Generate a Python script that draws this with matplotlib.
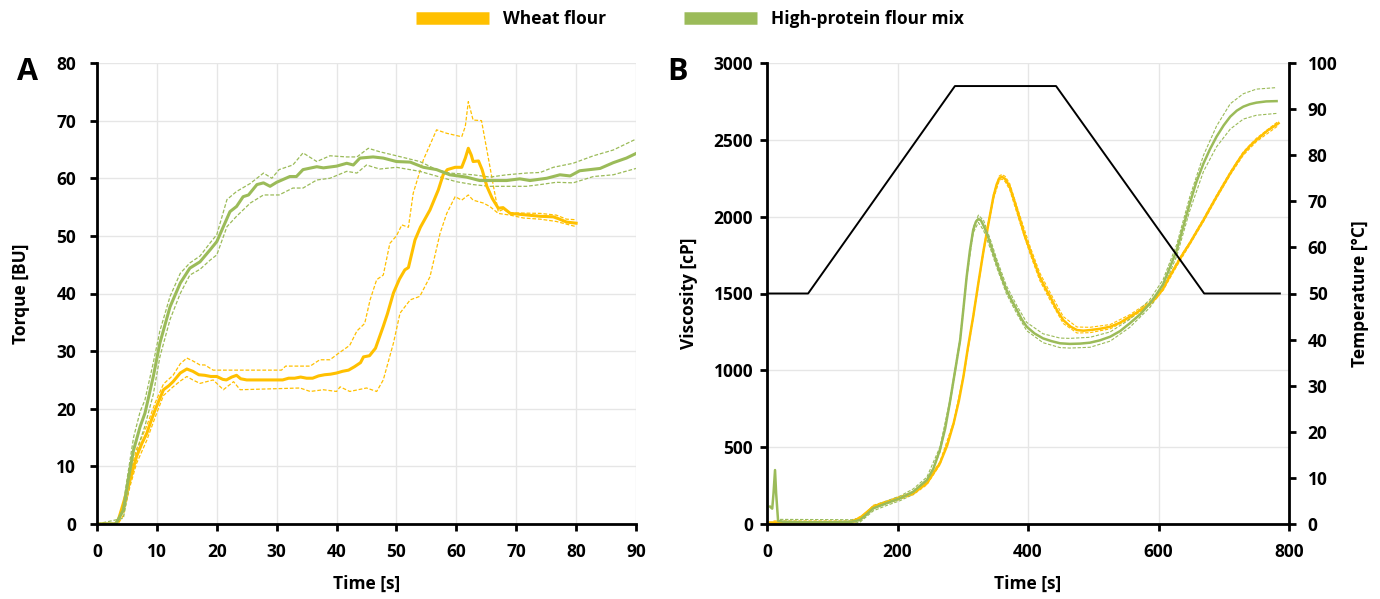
import matplotlib
matplotlib.use("Agg")
import matplotlib.pyplot as plt
from matplotlib.lines import Line2D

plt.rcParams['font.family'] = ['Open Sans', 'DejaVu Sans']
plt.rcParams['font.weight'] = 'bold'

YELLOW = '#FFC000'
GREEN = '#9BBB59'
GRID = '#E6E6E6'

# ---------------- Panel A: torque ----------------
wheat_t = [0, 3, 3.5, 4.4, 5.5, 6.6, 7.5, 8.3, 9, 9.7, 10.5, 11.1, 12, 12.7, 13.9, 15, 16, 17, 18, 19, 20, 21,
           21.6, 22.5, 23.3, 24, 25, 30, 31, 32, 33, 34, 35, 36, 37, 38, 39, 40, 41, 42, 43, 44, 44.5, 45.5, 46.5,
           47.8, 48.5, 49.5, 50.5, 51.4, 52, 53.1, 54, 55.6, 57, 57.8, 58.5, 59.8, 60.9, 61.5, 62, 62.5, 62.8, 63.7,
           64.3, 65.1, 66, 67, 67.8, 69, 70, 72, 74, 76.2, 77, 78.4, 80]
wheat_mean = [0, 0, 0.5, 3.6, 7.6, 11.7, 14, 15.7, 17.8, 19.8, 21.8, 23.3, 24.0, 24.7, 26.2, 26.9, 26.5, 25.9, 25.8,
              25.6, 25.6, 25.1, 25.0, 25.5, 25.8, 25.2, 25.0, 25.0, 25.0, 25.3, 25.3, 25.5, 25.3, 25.3, 25.7, 25.9,
              26.0, 26.2, 26.5, 26.7, 27.3, 28.0, 29.0, 29.2, 30.5, 34.3, 36.5, 40.1, 42.5, 44.1, 44.5, 49.3, 51.5,
              54.5, 58, 60.6, 61.5, 61.9, 61.9, 63.5, 65.2, 64, 62.9, 63.0, 61.5, 58.6, 56.5, 54.8, 54.9, 53.9, 53.8,
              53.6, 53.4, 53.3, 53.0, 52.4, 52.2]

wheat_up_t = [0, 3, 3.5, 4.4, 5, 5.5, 6.6, 8.3, 9.7, 11.1, 12.7, 13.9, 15, 16, 17.2, 18, 19.4, 30.8, 31.5, 35.6, 37.2,
              38.9, 40.3, 42.2, 43.4, 44.7, 45.6, 46.7, 47.8, 48.9, 50, 50.9, 52, 52.8, 54.5, 56.7, 58.4, 60.9, 61.5,
              62, 62.8, 64.2, 65.1, 66.2, 67, 67.8, 69, 74, 76.7, 78.4, 80]
wheat_up = [0, 0, 0.7, 2.5, 4.5, 8.5, 13, 17, 21, 24.3, 25.8, 27.8, 28.8, 28.3, 27.6, 27.6, 26.7, 26.7, 27.4, 27.4, 28.5,
            28.5, 29.6, 31.0, 33.5, 34.8, 38.9, 42.4, 43.2, 48.7, 50, 51.9, 51.5, 57.4, 63.2, 68.4, 67.8, 67.2, 69,
            73.3, 70.1, 70.0, 64.9, 58.6, 54.2, 54.6, 54.0, 53.9, 53.6, 52.9, 52.8]

wheat_lo_t = [0, 3.5, 4.4, 5.5, 6.6, 8.3, 9.7, 11.1, 12.7, 13.9, 15, 16, 17.2, 19.4, 21.1, 22.8, 23.9, 33.9, 35.6, 37.8,
              40, 40.6, 42.2, 45, 46.7, 47.8, 49.5, 50.6, 52.3, 53.9, 55.6, 57.3, 58.4, 59.8, 60.9, 62, 62.8, 64.5,
              65.6, 67, 69, 71.2, 74, 76.7, 80]
wheat_lo = [0, 0, 1.5, 6.5, 10.5, 14.5, 18.5, 22.3, 23.8, 24.8, 25.6, 25.0, 24.4, 25.0, 23.3, 24.7, 23.3, 23.6, 23.0,
            23.3, 23.0, 23.8, 23.0, 23.6, 23.0, 25.0, 31.4, 36.6, 38.9, 39.5, 42.9, 50.5, 53.9, 56.8, 56.2, 57.1, 56.2,
            55.7, 55.1, 53.9, 53.6, 53.1, 52.9, 52.5, 51.6]

hp_t = [0, 3, 3.3, 4.4, 5.2, 6.1, 7.2, 8, 9.4, 10.5, 12.2, 13.9, 15.5, 17.2, 18.9, 20, 21.1, 22.2, 23.3, 24.4, 25.3,
        26.7, 27.8, 28.9, 30, 32.2, 33.3, 34.4, 36.7, 37.8, 40, 41.7, 42.8, 43.9, 46.1, 47.8, 50, 52.3, 54.5, 56.7,
        58.9, 61.7, 63.9, 68.4, 70.6, 72.3, 75.1, 77.3, 79, 80.6, 84, 86.2, 88.4, 90]
hp_mean = [0, 0, 0.3, 2.4, 7.6, 12.8, 16.9, 19.2, 25.6, 31.4, 37.7, 41.8, 44.4, 45.5, 47.6, 49.0, 51.6, 54.2, 55.1,
           56.8, 57.1, 58.9, 59.2, 58.6, 59.3, 60.3, 60.3, 61.5, 62.0, 61.8, 62.1, 62.6, 62.3, 63.5, 63.7, 63.5, 62.9,
           62.8, 61.9, 61.5, 60.6, 60.2, 59.6, 59.6, 59.9, 59.6, 60.0, 60.6, 60.4, 61.3, 61.7, 62.7, 63.5, 64.3]

hp_up_t = [0, 3, 3.5, 4.4, 5.2, 6.1, 7.2, 8, 9.4, 10.5, 12.2, 13.9, 15.5, 17.2, 18.9, 20, 21.7, 23.3, 25.6, 27.8, 29.2,
           30.4, 32.7, 34.4, 36.7, 38.9, 41.7, 43.4, 45.3, 47.2, 50, 53.9, 56.7, 58.9, 62.8, 65.6, 68.4, 71.7, 74,
           76.2, 79.5, 82.9, 86.2, 90]
hp_up = [0, 0, 0.5, 3.5, 9, 15, 19.5, 21.5, 28, 33.5, 39.5, 43.5, 45.3, 46.5, 48.8, 50.2, 56.3, 57.7, 59.1, 60.9, 60.0,
         61.5, 62.3, 64.4, 62.9, 63.9, 63.7, 63.7, 65.2, 64.6, 63.9, 62.9, 61.5, 60.9, 60.6, 60.2, 60.6, 60.9, 61.0,
         61.9, 62.6, 63.9, 64.9, 66.8]

hp_lo_t = [0, 4.4, 5.2, 6.1, 7.2, 8, 9.4, 10.5, 12.2, 13.9, 15.5, 17.2, 18.9, 20, 21.7, 23.3, 25.6, 27.8, 30.4, 32.7,
           34.4, 36.7, 38.9, 41.7, 43.4, 45, 47.2, 50, 53.9, 57.3, 60, 62.8, 65.6, 71.7, 74, 76.7, 79.5, 82.9, 86.2, 90]
hp_lo = [0, 1, 5.5, 10, 14.5, 17, 22.5, 29, 35.5, 40, 43.2, 44.2, 45.8, 46.7, 51.6, 53.4, 55.7, 57.1, 57.1, 58.3, 58.3,
         59.7, 60.0, 61.2, 60.9, 62.3, 61.6, 61.9, 61.2, 60.2, 59.4, 58.9, 58.6, 58.6, 58.9, 59.3, 59.2, 60.3, 60.6,
         61.7]

# ---------------- Panel B: RVA viscosity ----------------
temp_t = [0, 63, 288, 443, 670, 786]
temp_c = [50, 50, 95, 95, 50, 50]

wv_t = [5, 60, 100, 128, 142.5, 163, 194, 224, 245, 265, 276, 286, 294, 301, 308, 316, 324, 332, 340, 347, 352, 356,
        360, 365, 372, 380, 388, 395, 403, 410, 418, 426, 434, 444, 454, 465, 475, 485, 495, 510, 526, 541, 556, 572,
        587, 597, 607, 617, 628, 638, 648, 658, 669, 679, 689, 700, 710, 720, 730, 740, 750, 767, 784]
wv_mean = [10, 8, 8, 12, 40, 113, 156, 200, 265, 395, 510, 655, 800, 958, 1150, 1349, 1570, 1783, 1970, 2130, 2210,
           2250, 2260, 2245, 2195, 2090, 1978, 1875, 1783, 1700, 1609, 1540, 1479, 1395, 1327, 1285, 1262, 1258, 1262,
           1270, 1284, 1310, 1349, 1390, 1436, 1475, 1530, 1610, 1690, 1762, 1827, 1900, 1978, 2055, 2130, 2210, 2282,
           2350, 2412, 2460, 2499, 2560, 2608]
wv_band_t = [10, 130, 150, 163, 194, 224, 245, 265, 286, 301, 316, 332, 347, 356, 360, 365, 372, 388, 403, 418, 434,
             454, 475, 495, 526, 556, 587, 607, 628, 648, 669, 689, 710, 730, 750, 784]
wv_up = [20, 20, 65, 122, 165, 210, 275, 405, 665, 968, 1360, 1795, 2145, 2265, 2275, 2262, 2215, 2000, 1808, 1635,
         1505, 1350, 1282, 1280, 1298, 1362, 1448, 1540, 1702, 1835, 1988, 2140, 2292, 2422, 2510, 2622]
wv_lo = [0, 4, 45, 104, 147, 190, 255, 385, 645, 948, 1338, 1771, 2115, 2235, 2245, 2228, 2175, 1955, 1760, 1585, 1455,
         1305, 1243, 1245, 1270, 1336, 1424, 1520, 1678, 1818, 1968, 2120, 2272, 2400, 2488, 2594]

hv_t = [4.6, 8, 10, 12.3, 14, 17, 25, 60, 100, 130, 142.5, 152, 163, 183, 204, 224, 245, 255, 265, 273, 280, 288, 296,
        301, 306, 311, 316, 320, 324, 328, 332, 337, 344, 352, 360, 367, 375, 383, 390, 398, 410, 423, 436, 449, 464,
        480, 495, 510, 526, 541, 556, 572, 587, 597, 607, 617, 628, 638, 648, 658, 669, 679, 689, 700, 710, 720, 730,
        740, 750, 765, 781]
hv_mean = [113, 100, 200, 351, 200, 20, 15, 12, 12, 15, 26, 60, 102, 135, 167, 210, 286, 360, 482, 620, 785, 990, 1197,
           1400, 1609, 1780, 1913, 1965, 1985, 1975, 1940, 1892, 1800, 1697, 1600, 1523, 1455, 1393, 1335, 1284, 1240,
           1208, 1190, 1176, 1172, 1174, 1180, 1195, 1219, 1255, 1306, 1365, 1436, 1495, 1560, 1665, 1783, 1935, 2087,
           2225, 2347, 2440, 2521, 2595, 2651, 2690, 2716, 2732, 2742, 2750, 2752]
hv_band_t = [20, 130, 142.5, 163, 183, 204, 224, 245, 265, 280, 296, 306, 316, 324, 332, 344, 352, 367, 383, 398, 423,
             449, 464, 495, 526, 556, 587, 607, 628, 648, 669, 689, 710, 730, 750, 781]
hv_up = [30, 28, 40, 118, 150, 182, 228, 305, 500, 800, 1210, 1620, 1930, 2010, 1975, 1830, 1725, 1550, 1420, 1312,
         1238, 1210, 1208, 1215, 1250, 1332, 1462, 1590, 1820, 2130, 2400, 2590, 2735, 2800, 2830, 2840]
hv_lo = [2, 3, 12, 86, 120, 152, 192, 268, 465, 770, 1185, 1598, 1895, 1962, 1910, 1772, 1670, 1498, 1368, 1258, 1180,
         1148, 1145, 1150, 1190, 1280, 1410, 1530, 1745, 2040, 2295, 2455, 2570, 2635, 2660, 2672]

fig = plt.figure(figsize=(13.8, 5.99), dpi=100)

W, H = 1380, 599
axA = fig.add_axes([97 / W, 1 - 524 / H, 539 / W, 461 / H])
axB = fig.add_axes([767 / W, 1 - 524 / H, 522 / W, 461 / H])


def style(ax, ypad):
    ax.grid(True, color=GRID, linewidth=1.0)
    ax.set_axisbelow(True)
    for s in ['top', 'right']:
        ax.spines[s].set_visible(False)
    for s in ['left', 'bottom']:
        ax.spines[s].set_linewidth(2.0)
    ax.tick_params(axis='both', direction='out', width=2.0, length=5, labelsize=12.5)
    ax.tick_params(axis='x', pad=9)
    ax.tick_params(axis='y', pad=ypad)
    for lab in ax.get_xticklabels() + ax.get_yticklabels():
        lab.set_fontweight('bold')


DASH = (0, (3, 1.5))

# Panel A
axA.plot(wheat_up_t, wheat_up, color=YELLOW, lw=0.9, ls=DASH)
axA.plot(wheat_lo_t, wheat_lo, color=YELLOW, lw=0.9, ls=DASH)
axA.plot(hp_up_t, hp_up, color=GREEN, lw=0.9, ls=DASH)
axA.plot(hp_lo_t, hp_lo, color=GREEN, lw=0.9, ls=DASH)
axA.plot(wheat_t, wheat_mean, color=YELLOW, lw=2.2)
axA.plot(hp_t, hp_mean, color=GREEN, lw=2.2)
axA.set_xlim(0, 90)
axA.set_ylim(0, 80)
axA.set_xticks(range(0, 91, 10))
axA.set_yticks(range(0, 81, 10))
style(axA, 10)
axA.set_xlabel('Time [s]', fontsize=12.5, fontweight='bold', labelpad=10)
axA.set_ylabel('Torque [BU]', fontsize=12.5, fontweight='bold', labelpad=19)

# Panel B
axB.plot(wv_band_t, wv_up, color=YELLOW, lw=0.8, ls=DASH)
axB.plot(wv_band_t, wv_lo, color=YELLOW, lw=0.8, ls=DASH)
axB.plot(hv_band_t, hv_up, color=GREEN, lw=0.8, ls=DASH)
axB.plot(hv_band_t, hv_lo, color=GREEN, lw=0.8, ls=DASH)
axB.plot(wv_t, wv_mean, color=YELLOW, lw=1.8)
axB.plot(hv_t, hv_mean, color=GREEN, lw=1.8)
axB.set_xlim(0, 800)
axB.set_ylim(0, 3000)
axB.set_xticks(range(0, 801, 200))
axB.set_yticks(range(0, 3001, 500))
style(axB, 5)
axB.set_xlabel('Time [s]', fontsize=12.5, fontweight='bold', labelpad=10)
axB.set_ylabel('Viscosity [cP]', fontsize=12.5, fontweight='bold', labelpad=11)

axT = axB.twinx()
axT.plot(temp_t, temp_c, color='black', lw=1.4)
axT.set_ylim(0, 100)
axT.set_yticks(range(0, 101, 10))
for s in ['top', 'left', 'bottom']:
    axT.spines[s].set_visible(False)
axT.spines['right'].set_linewidth(2.0)
axT.tick_params(axis='y', direction='out', width=2.0, length=5, labelsize=12.5, pad=8.5)
for lab in axT.get_yticklabels():
    lab.set_fontweight('bold')
axT.set_ylabel('Temperature [°C]', fontsize=12.5, fontweight='bold', labelpad=10)

# Panel letters
fig.text(28 / W, 1 - 72 / H, 'A', fontsize=22, fontweight='bold', ha='center', va='center')
fig.text(678 / W, 1 - 72 / H, 'B', fontsize=22, fontweight='bold', ha='center', va='center')

# Legend
handles = [Line2D([0], [0], color=YELLOW, lw=9, solid_capstyle='butt'),
           Line2D([0], [0], color=GREEN, lw=9, solid_capstyle='butt')]
fig.legend(handles, ['Wheat flour', 'High-protein flour mix'], loc='center', bbox_to_anchor=(0.5, 1 - 19 / H),
           ncol=2, frameon=False, handlelength=4.2, columnspacing=4.5, handletextpad=0.8,
           prop={'weight': 'bold', 'size': 12.5})

fig.savefig('out.png', dpi=100)
